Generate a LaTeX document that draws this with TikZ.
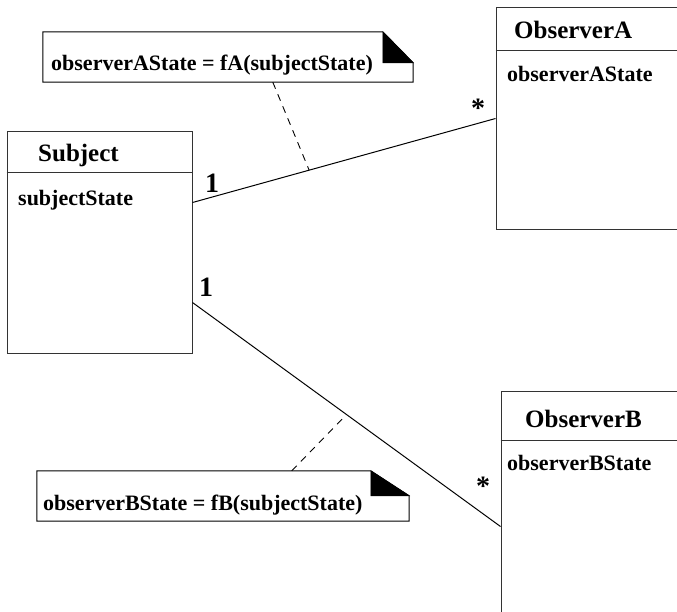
\documentclass[tikz,border=0pt]{standalone}
\usepackage{fontspec}
\setmainfont{Liberation Serif}
\usetikzlibrary{calc}

\tikzset{
  classbox/.style={draw=black!80, line width=1pt, rectangle, inner sep=0pt},
  notearea/.style={rectangle, draw=none, inner sep=0pt},
  notefold/.style={fill=black, draw=black, line width=0.6pt},
  noteline/.style={draw=black, line width=1pt, line join=miter},
  assoc/.style={draw=black, line width=1pt},
  anchorline/.style={draw=black, line width=0.9pt, dash pattern=on 7pt off 6pt},
  classtitle/.style={anchor=base west, inner sep=0pt, font=\bfseries\fontsize{25}{30}\selectfont},
  attrtext/.style={anchor=base west, inner sep=0pt, font=\bfseries\fontsize{22}{26}\selectfont},
  notetext/.style={anchor=base west, inner sep=0pt, font=\bfseries\fontsize{22}{26}\selectfont},
  mult/.style={anchor=base west, inner sep=0pt, font=\bfseries\fontsize{28}{32}\selectfont},
  star/.style={inner sep=0pt, font=\bfseries\fontsize{28}{32}\selectfont}
}

\begin{document}
\begin{tikzpicture}[x=1pt, y=-1pt]
  \clip (0,0) rectangle (677,611);
  \fill[white] (0,0) rectangle (677,611);

  % class boxes
  \node[classbox, minimum width=185pt, minimum height=222pt] (subject) at (99.5,242) {};
  \node[classbox, minimum width=200pt, minimum height=222pt] (obsA) at (596,118) {};
  \node[classbox, minimum width=200pt, minimum height=240pt] (obsB) at (601,511) {};

  % title separators
  \draw[draw=black!80, line width=1pt] ($(subject.north west)+(0,42)$) -- ($(subject.north east)+(0,42)$);
  \draw[draw=black!80, line width=1pt] ($(obsA.north west)+(0,44)$) -- ($(obsA.north east)+(0,44)$);
  \draw[draw=black!80, line width=1pt] ($(obsB.north west)+(0,50)$) -- ($(obsB.north east)+(0,50)$);

  % class names and attributes
  \node[classtitle] (subjectTitle) at (38,161.5) {Subject};
  \node[attrtext] (subjectAttr) at (18,205) {subjectState};
  \node[classtitle] (obsATitle) at (514,38) {ObserverA};
  \node[attrtext] (obsAAttr) at (507,81.5) {observerAState};
  \node[classtitle] (obsBTitle) at (525,427.5) {ObserverB};
  \node[attrtext] (obsBAttr) at (507,470.5) {observerBState};

  % associations
  \draw[assoc] ($(subject.north east)+(0,72)$) -- coordinate[pos=0.385] (midA) ($(obsA.north west)+(0,112)$);
  \draw[assoc] ($(subject.north east)+(0,172)$) -- coordinate[pos=0.5] (midB) ($(obsB.north west)+(0,136)$);

  % multiplicities
  \node[mult] (oneA) at (205,192.5) {1};
  \node[star] (starA) at (478,108) {*};
  \node[mult] (oneB) at (199,296.5) {1};
  \node[star] (starB) at (483,486) {*};

  % note A
  \node[notearea, minimum width=370pt, minimum height=50pt] (noteA) at (228,57) {};
  \draw[noteline] (noteA.north west) -- ++(340,0) -- ($(noteA.north east)+(0,31)$) -- (noteA.south east) -- (noteA.south west) -- cycle;
  \fill[notefold] ($(noteA.north west)+(340,0)$) -- ($(noteA.north east)+(0,31)$) -- ($(noteA.north west)+(340,31)$) -- cycle;
  \node[notetext] (noteAText) at (51,70) {observerAState = fA(subjectState)};

  % note B
  \node[notearea, minimum width=372pt, minimum height=50pt] (noteB) at (223,496) {};
  \draw[noteline] (noteB.north west) -- ++(334,0) -- ($(noteB.north east)+(0,25)$) -- (noteB.south east) -- (noteB.south west) -- cycle;
  \fill[notefold] ($(noteB.north west)+(334,0)$) -- ($(noteB.north east)+(0,25)$) -- ($(noteB.north west)+(334,25)$) -- cycle;
  \node[notetext] (noteBText) at (43,510) {observerBState = fB(subjectState)};

  % note anchors
  \draw[anchorline] ($(noteA.south west)+(230,0)$) -- (midA);
  \draw[anchorline] ($(noteB.north west)+(255,0)$) -- (midB);
\end{tikzpicture}
\end{document}
